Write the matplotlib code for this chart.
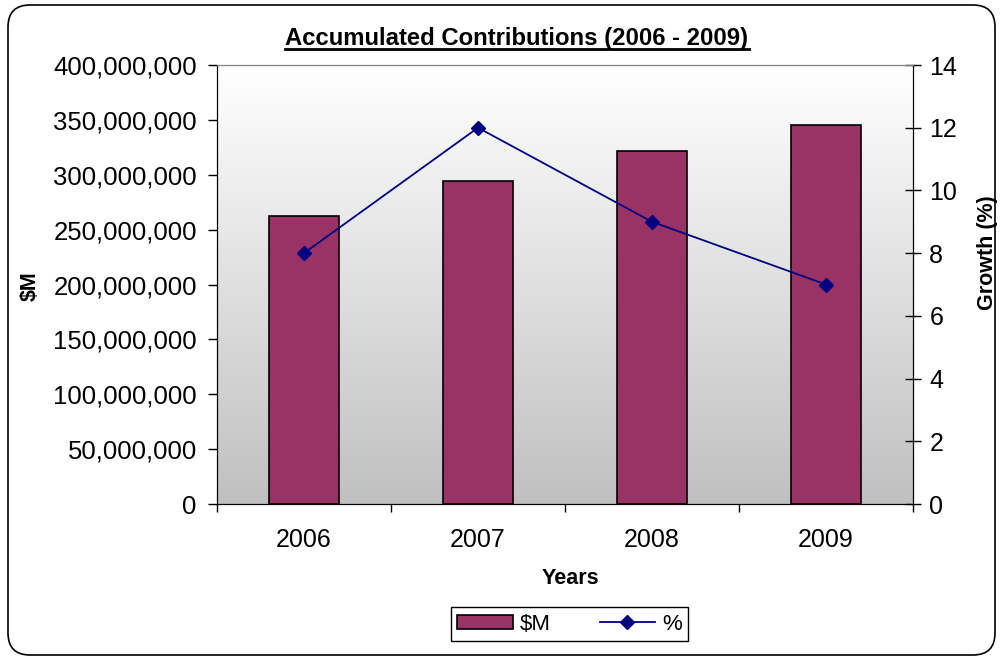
import numpy as np
import matplotlib
matplotlib.use("Agg")
import matplotlib.pyplot as plt
from matplotlib.patches import FancyBboxPatch
from matplotlib.lines import Line2D
from matplotlib.colors import LinearSegmentedColormap
from matplotlib.transforms import IdentityTransform
from matplotlib.ticker import FuncFormatter


# Data
years = ["2006", "2007", "2008", "2009"]
contrib = [262000000, 294000000, 322000000, 345000000]   # $M
growth = [8, 12, 9, 7]                                   # %

plt.rcParams["font.family"] = ["Liberation Sans", "DejaVu Sans"]

fig = plt.figure(figsize=(10.02, 6.6), dpi=100)
ax = fig.add_axes([217 / 1002, 1 - 504 / 660, 696 / 1002, 439 / 660])
ax2 = ax.twinx()

# gradient background of the plot area
cmap = LinearSegmentedColormap.from_list("bg", ["#c0c0c0", "#ffffff"])
ax.imshow(np.linspace(0, 1, 256).reshape(-1, 1), cmap=cmap, origin="lower",
          extent=[0, 1, 0, 1], transform=ax.transAxes, aspect="auto", zorder=0)

x = np.arange(len(years))
bars = ax.bar(x, contrib, width=0.4, color="#993366", edgecolor="black",
              linewidth=1.2, zorder=2, label="$M")
line, = ax2.plot(x, growth, color="#000080", lw=1.3, marker="D", markersize=7,
                 markerfacecolor="#000080", label="%")

ax.set_xlim(-0.5, 3.5)
ax.set_ylim(0, 400000000)
ax2.set_ylim(0, 14)
ax.set_yticks(np.arange(0, 400000001, 50000000))
ax.yaxis.set_major_formatter(FuncFormatter(lambda v, p: f"{int(v):,}"))
ax2.set_yticks(np.arange(0, 15, 2))

ax.set_xticks(x)
ax.set_xticklabels(years)
ax.set_xticks(np.arange(-0.5, 4, 1), minor=True)
ax.tick_params(axis="x", which="major", length=0, pad=17, labelsize=18)
ax.tick_params(axis="x", which="minor", length=6, width=1, direction="out")
ax.tick_params(axis="y", length=6.5, width=1, pad=8, labelsize=18.5)
ax2.tick_params(axis="y", direction="inout", length=11.5, width=1, pad=6, labelsize=18)

for a in (ax, ax2):
    a.spines["top"].set_color("#808080")
    a.spines["left"].set_color("black")
    a.spines["right"].set_color("black")
    a.spines["bottom"].set_color("black")

fig.text(30 / 1002, 1 - 286 / 660, "$M", rotation=90, fontsize=15.5,
         fontweight="bold", ha="center", va="center")
fig.text(988 / 1002, 1 - 253 / 660, "Growth (%)", rotation=90, fontsize=15.5,
         fontweight="bold", ha="center", va="center")
fig.text(570 / 1002, 1 - 578 / 660, "Years", fontsize=15.5,
         fontweight="bold", ha="center", va="center")
title = fig.text(517 / 1002, 1 - 38 / 660, "Accumulated Contributions (2006 - 2009)",
                 fontsize=17.2, fontweight="bold", ha="center", va="center")

fig.legend([bars, line], ["$M", "%"], loc="center", ncol=2,
           bbox_to_anchor=(569.5 / 1002, 1 - 624 / 660), fontsize=16,
           frameon=True, fancybox=False, edgecolor="black", framealpha=1,
           handlelength=2.5, handleheight=0.6, columnspacing=2.2,
           borderpad=0.3, handletextpad=0.3, borderaxespad=0)

# outer chart border
frame = FancyBboxPatch((8, 5), 987, 650, boxstyle="round,pad=0,rounding_size=22",
                       transform=IdentityTransform(), fill=False,
                       edgecolor="black", lw=1.2)
fig.patches.append(frame)

# underline title
fig.canvas.draw()
bb = title.get_window_extent()
fig.add_artist(Line2D([bb.x0, bb.x1], [bb.y0 + 1, bb.y0 + 1],
                      transform=IdentityTransform(), color="black", lw=2))

fig.savefig("out.png", dpi=100)
